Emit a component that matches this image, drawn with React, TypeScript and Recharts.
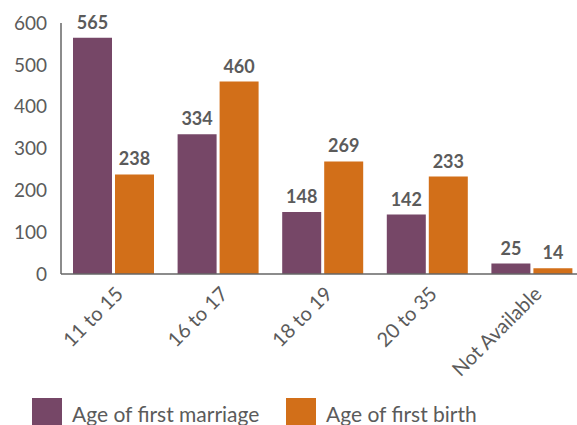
import { BarChart, Bar, XAxis, YAxis, LabelList } from 'recharts';

const categories = ['11 to 15', '16 to 17', '18 to 19', '20 to 35', 'Not Available'];
const firstMarriage = [565, 334, 148, 142, 25];
const firstBirth = [238, 460, 269, 233, 14];
const yTicks = [0, 100, 200, 300, 400, 500, 600];

const data = categories.map((name, i) => ({
  name,
  marriage: firstMarriage[i],
  birth: firstBirth[i],
}));

const PURPLE = '#764767';
const ORANGE = '#d26f19';
const TEXT = '#5b5b5b';
const FONT = 'Lato, "Open Sans", sans-serif';

const XTick = ({ x, y, payload }: any) => (
  <g transform={`translate(${x + 2},${y + 4})`}>
    <text textAnchor="end" transform="rotate(-45)" fill={TEXT} fontSize={20} fontFamily={FONT} dy={13}>
      {payload.value}
    </text>
  </g>
);

const legendItems = [
  { label: 'Age of first marriage', color: PURPLE, left: 32 },
  { label: 'Age of first birth', color: ORANGE, left: 286 },
];

const App = () => {
  return (
    <div style={{ position: 'relative', width: 577, height: 425, overflow: 'hidden', background: '#fff' }}>
      <style>{`body{margin:0}`}</style>
      <BarChart
        width={584}
        height={425}
        data={data}
        margin={{ top: 23, right: 0, left: 0, bottom: 0 }}
        barCategoryGap={12}
        barGap={3}
      >
        <XAxis
          dataKey="name"
          height={151}
          axisLine={{ stroke: '#666', strokeWidth: 1.5 }}
          tickLine={false}
          interval={0}
          tick={<XTick />}
        />
        <YAxis
          width={61}
          domain={[0, 600]}
          ticks={yTicks}
          axisLine={{ stroke: '#666', strokeWidth: 1.5 }}
          tickLine={false}
          tick={{ fill: TEXT, fontSize: 19, fontFamily: FONT }}
          tickMargin={8}
        />
        <Bar dataKey="marriage" fill={PURPLE} isAnimationActive={false}>
          <LabelList dataKey="marriage" position="top" offset={9} fill={TEXT} fontSize={18} fontWeight="bold" fontFamily={FONT} />
        </Bar>
        <Bar dataKey="birth" fill={ORANGE} isAnimationActive={false}>
          <LabelList dataKey="birth" position="top" offset={9} fill={TEXT} fontSize={18} fontWeight="bold" fontFamily={FONT} />
        </Bar>
      </BarChart>
      {legendItems.map((item) => (
        <div
          key={item.label}
          style={{ position: 'absolute', top: 398, left: item.left, display: 'flex', alignItems: 'center', fontFamily: FONT, fontSize: 21, color: TEXT }}
        >
          <span style={{ display: 'inline-block', width: 30, height: 30, background: item.color, marginRight: 10 }} />
          <span>{item.label}</span>
        </div>
      ))}
    </div>
  );
};

export default App;
